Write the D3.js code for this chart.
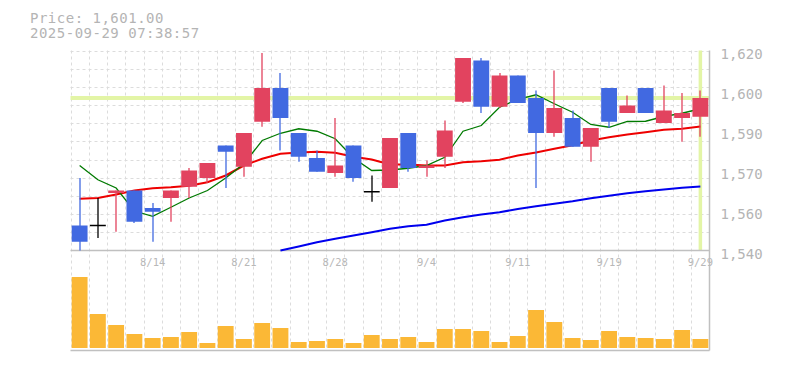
<!DOCTYPE html>
<html>
<head>
<meta charset="utf-8">
<script src="https://cdn.jsdelivr.net/npm/d3@7"></script>
<style>
  body { margin: 0; background: #fff; }
  svg { display: block; }
</style>
</head>
<body>
<svg width="785" height="370"></svg>
<script>
// data ..............................................
var dates = ["2025-08-07","2025-08-08","2025-08-12","2025-08-13","2025-08-14","2025-08-15","2025-08-18",
  "2025-08-19","2025-08-20","2025-08-21","2025-08-22","2025-08-25","2025-08-26","2025-08-27","2025-08-28",
  "2025-08-29","2025-09-01","2025-09-02","2025-09-03","2025-09-04","2025-09-05","2025-09-08","2025-09-09",
  "2025-09-10","2025-09-11","2025-09-12","2025-09-16","2025-09-17","2025-09-18","2025-09-19","2025-09-22",
  "2025-09-24","2025-09-25","2025-09-26","2025-09-29"];
var opens  = [1550,1550,1563,1564,1557,1561,1565.5,1569,1582,1573.5,1591.5,1605,1587,1577,1571,1582,1563.5,1565,1587,1573,
  1577.5,1599.5,1616,1597.5,1610,1601,1587,1593,1581.5,1605,1595,1605,1591,1593,1593.5];
var highs  = [1569,1561,1564,1564,1559,1564,1573,1575,1582,1587,1619,1611,1587,1580,1593,1582,1570,1585,1587,1576,
  1592,1617,1617,1611,1610,1604,1612,1596,1589,1605,1602,1605,1606,1603,1604];
var lows   = [1540,1545,1547.5,1551,1543.5,1551.5,1561,1567,1565,1569.5,1589.5,1580,1575.5,1571.5,1569.5,1567.5,1559.5,
  1565,1571.5,1569.5,1573,1599,1595,1597,1599,1565,1585.5,1581.5,1575.5,1589,1595,1595,1591,1583.5,1585.5];
var closes = [1543.5,1550,1564,1551.5,1555.5,1564,1572,1575,1579.5,1587,1605,1593,1577.5,1571.5,1574,1569,1563.5,1585,1573,1574,
  1588,1617,1597.5,1610,1599,1587,1597,1581.5,1589,1591.5,1598,1595,1596,1595,1601];
var volumes = [7100,3400,2300,1400,1000,1100,1600,500,2200,900,2500,2000,600,700,900,500,1300,900,1100,600,
  1900,1900,1700,600,1200,3800,2600,1000,800,1700,1100,1000,900,1800,900];
var ma5  = [1574,1568.3,1565,1555.8,1553.7,1557.3,1561,1564,1569,1574.7,1584,1586.9,1588.7,1587.7,1584.7,1577,1572,1572.2,
  1572.9,1574,1577.3,1587.7,1590,1597.3,1600.5,1602.3,1598.7,1595.3,1590.4,1589.3,1591.6,1591.7,1593.6,1594.9,1596.7];
var ma25 = [1560.7,1561,1562.4,1564,1564.9,1565.3,1565.9,1567.3,1570,1574,1576.7,1578.7,1579.2,1579.5,1579.1,1577.5,1576.4,
  1574.4,1574.4,1574,1574,1575.3,1575.7,1576.3,1578,1579.2,1580.7,1582.1,1584,1585.3,1586.4,1587.3,1588.3,1588.7,1589.6];
var ma75 = [null,null,null,null,null,null,null,null,null,null,null,1540,1541.6,1543.3,1544.7,1546,1547.3,1548.7,1549.7,1550.3,
  1552,1553.3,1554.4,1555.3,1556.6,1557.7,1558.7,1559.7,1560.9,1561.9,1562.9,1563.7,1564.4,1565.1,1565.6];
var yTicks  = [1540,1556,1572,1588,1604,1620];
var yLabels = ["1,540","1,560","1,570","1,590","1,600","1,620"];
var xTicks  = ["2025-08-14","2025-08-21","2025-08-28","2025-09-04","2025-09-11","2025-09-19","2025-09-29"];
var lastPrice = 1601;
var priceText = "Price: 1,601.00";
var timeText  = "2025-09-29 07:38:57";

// layout ...................................................................
var plot = {left:70.5, right:709.5, top:50.5, bottom:250.5, vtop:277, vbottom:348, vaxis:350.5};
var svg = d3.select("svg");
var font = "'DejaVu Sans Mono', 'Liberation Mono', monospace";

var xScale = d3.scaleBand().domain(dates).range([plot.left, plot.right]).padding(0);
var bw = xScale.bandwidth();
var cw = bw - 2.4; // candle width
var cx = d => xScale(d) + bw/2;
var yScale = d3.scaleLinear().domain([1540,1620]).range([plot.bottom, plot.top]);
var vScale = d3.scaleLinear().domain([0, d3.max(volumes)]).range([plot.vbottom, plot.vtop]);

var candles = dates.map((d,i) => ({date:d, o:opens[i], h:highs[i], l:lows[i], c:closes[i], v:volumes[i]}));
var colorOf = d => d.c > d.o ? "#e2435f" : (d.c < d.o ? "#4169e1" : "#000");

// grid .....................................................................
var grid = svg.append("g").attr("stroke","#dcdcdc").attr("stroke-dasharray","3,3").attr("stroke-width",1);
grid.selectAll(".vg").data(dates).enter().append("line")
  .attr("x1",d=>Math.round(xScale(d))+0.5).attr("x2",d=>Math.round(xScale(d))+0.5)
  .attr("y1",plot.top).attr("y2",plot.vaxis);
grid.selectAll(".hg").data(d3.range(11)).enter().append("line")
  .attr("x1",plot.left).attr("x2",plot.right)
  .attr("y1",i=>Math.round(yScale(1620 - i*80/11))+0.5)
  .attr("y2",i=>Math.round(yScale(1620 - i*80/11))+0.5);

// current price highlight
var hl = "#e3f5a6";
svg.append("line").attr("x1",plot.left).attr("x2",plot.right)
  .attr("y1",yScale(lastPrice)).attr("y2",yScale(lastPrice))
  .attr("stroke",hl).attr("stroke-width",4);
svg.append("line").attr("x1",cx(dates[dates.length-1])).attr("x2",cx(dates[dates.length-1]))
  .attr("y1",plot.top).attr("y2",plot.bottom)
  .attr("stroke",hl).attr("stroke-width",3.5);

// axes lines
var axisCol = "#c0c0c0";
svg.append("line").attr("x1",plot.left).attr("x2",plot.right).attr("y1",plot.bottom).attr("y2",plot.bottom)
  .attr("stroke",axisCol).attr("stroke-width",1.5);
svg.append("line").attr("x1",plot.left).attr("x2",plot.right).attr("y1",plot.vaxis).attr("y2",plot.vaxis)
  .attr("stroke",axisCol).attr("stroke-width",1.5);
svg.append("line").attr("x1",plot.right).attr("x2",plot.right).attr("y1",plot.top).attr("y2",plot.vaxis)
  .attr("stroke",axisCol).attr("stroke-width",1.5);

// moving averages ..........................................................
var lineOf = arr => d3.line()
  .defined((d,i)=>arr[i] != null)
  .x((d,i)=>cx(dates[i]))
  .y((d,i)=>yScale(arr[i]));
[[ma75,"#0000ee",2],[ma25,"#ee0000",2],[ma5,"#007a00",1.3]].forEach(m => {
  svg.append("path").datum(dates).attr("d",lineOf(m[0])(dates))
    .attr("fill","none").attr("stroke",m[1]).attr("stroke-width",m[2]);
});

// candles ..................................................................
var gs = svg.selectAll(".candle").data(candles).enter().append("g");
gs.append("line")
  .attr("x1",d=>Math.round(cx(d.date))).attr("x2",d=>Math.round(cx(d.date)))
  .attr("y1",d=>yScale(d.h)).attr("y2",d=>yScale(d.l))
  .attr("stroke",colorOf).attr("stroke-width",1.3);
gs.filter(d=>d.o !== d.c).append("rect")
  .attr("x",d=>cx(d.date)-cw/2).attr("width",cw)
  .attr("y",d=>yScale(Math.max(d.o,d.c)))
  .attr("height",d=>Math.max(1, yScale(Math.min(d.o,d.c)) - yScale(Math.max(d.o,d.c))))
  .attr("fill",colorOf);
gs.filter(d=>d.o === d.c).append("line")
  .attr("x1",d=>cx(d.date)-cw/2).attr("x2",d=>cx(d.date)+cw/2)
  .attr("y1",d=>yScale(d.o)).attr("y2",d=>yScale(d.o))
  .attr("stroke","#000").attr("stroke-width",1.5);

// volume ...................................................................
svg.selectAll(".vol").data(candles).enter().append("rect")
  .attr("x",d=>cx(d.date)-cw/2).attr("width",cw)
  .attr("y",d=>vScale(d.v)).attr("height",d=>plot.vbottom - vScale(d.v))
  .attr("fill","#fbb836");

// axes text ................................................................
var yAxis = svg.append("g").attr("transform","translate("+plot.right+",0)")
  .call(d3.axisRight(yScale).tickValues(yTicks).tickFormat((d,i)=>yLabels[i]).tickSize(0).tickPadding(11));
yAxis.select(".domain").remove();
yAxis.selectAll("text").attr("dy","0.6em").attr("fill","#b4b4b4")
  .style("font-family",font).style("font-size","14px");

var fmt = d3.timeFormat("%-m/%-d"), parse = d3.timeParse("%Y-%m-%d");
var xAxis = svg.append("g").attr("transform","translate(0,"+plot.bottom+")")
  .call(d3.axisBottom(xScale).tickValues(xTicks).tickFormat(d=>fmt(parse(d))).tickSize(0).tickPadding(8));
xAxis.select(".domain").remove();
xAxis.selectAll("text").attr("fill","#b8b8b8")
  .style("font-family",font).style("font-size","10.5px");

// title ....................................................................
svg.append("text").attr("x",30).attr("y",22.5).text(priceText)
  .attr("fill","#b4b4b4").style("font-family",font).style("font-size","14px").style("letter-spacing","0.5px");
svg.append("text").attr("x",30).attr("y",37.5).text(timeText)
  .attr("fill","#b4b4b4").style("font-family",font).style("font-size","14px").style("letter-spacing","0.5px");
</script>
</body>
</html>
